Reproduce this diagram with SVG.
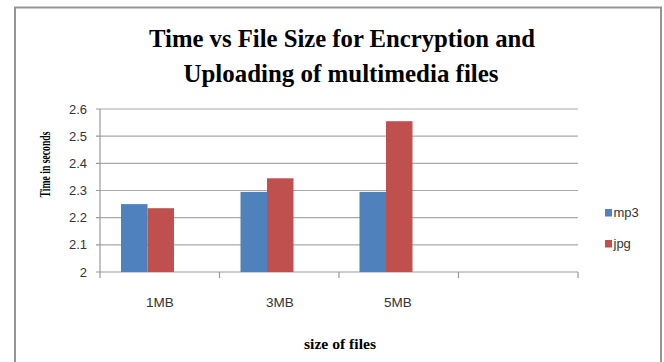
<svg xmlns="http://www.w3.org/2000/svg" width="664" height="362" viewBox="0 0 664 362">
<style>
.title{font-family:"Liberation Serif","Times New Roman",serif;font-weight:bold;font-size:25px;fill:#000;text-anchor:middle}
.axt{font-family:"Liberation Serif","Times New Roman",serif;font-weight:bold;font-size:14px;fill:#000;text-anchor:middle}
.tick{font-family:"Liberation Sans",Arial,sans-serif;font-size:13px;fill:#333}
.grid{stroke:#a8a8a8;stroke-width:1.2;fill:none}
.axis{stroke:#999;stroke-width:1.2;fill:none}
.mp3{fill:#4F81BD}
.jpg{fill:#C0504D}
</style>
<rect x="0" y="0" width="664" height="362" fill="#fff"/>
<g id="frame"><path d="M15,370 V7.5 H661 V370" fill="none" stroke="#959595" stroke-width="2"/></g>
<g id="title">
<text class="title" x="342" y="46.5" textLength="386" lengthAdjust="spacingAndGlyphs">Time vs File Size for Encryption and</text>
<text class="title" x="341" y="81.5" textLength="315" lengthAdjust="spacingAndGlyphs">Uploading of multimedia files</text>
</g>
<g id="connectors">
<g id="gridlines">
<line class="grid" x1="100" y1="109" x2="578" y2="109"/>
<line class="grid" x1="100" y1="136.2" x2="578" y2="136.2"/>
<line class="grid" x1="100" y1="163.3" x2="578" y2="163.3"/>
<line class="grid" x1="100" y1="190.5" x2="578" y2="190.5"/>
<line class="grid" x1="100" y1="217.7" x2="578" y2="217.7"/>
<line class="grid" x1="100" y1="244.8" x2="578" y2="244.8"/>
</g>
<g id="axes">
<line class="axis" x1="100" y1="109" x2="100" y2="272"/>
<line class="axis" x1="96" y1="272" x2="578" y2="272"/>
<path class="axis" d="M96,109H100M96,136.2H100M96,163.3H100M96,190.5H100M96,217.7H100M96,244.8H100"/>
<path class="axis" d="M100,272V278M219.5,272V278M339,272V278M458.5,272V278M578,272V278"/>
</g>
</g>
<g id="y-labels" class="tick" text-anchor="end" font-size="13.5">
<text x="87" y="113.5">2.6</text>
<text x="87" y="140.7">2.5</text>
<text x="87" y="167.8">2.4</text>
<text x="87" y="195">2.3</text>
<text x="87" y="222.2">2.2</text>
<text x="87" y="249.3">2.1</text>
<text x="87" y="276.5">2</text>
</g>
<g id="x-labels" class="tick" text-anchor="middle">
<text x="160" y="306.5" font-size="13.5">1MB</text>
<text x="280" y="306.5" font-size="13.5">3MB</text>
<text x="398" y="306.5" font-size="13.5">5MB</text>
</g>
<g id="bars">
<g id="bar-1MB-mp3"><rect class="mp3" x="121" y="204.1" width="26.5" height="67.9"/></g>
<g id="bar-1MB-jpg"><rect class="jpg" x="147.5" y="208.2" width="26.5" height="63.8"/></g>
<g id="bar-3MB-mp3"><rect class="mp3" x="240.5" y="191.9" width="26.5" height="80.1"/></g>
<g id="bar-3MB-jpg"><rect class="jpg" x="267" y="178.3" width="26.5" height="93.7"/></g>
<g id="bar-5MB-mp3"><rect class="mp3" x="359.5" y="191.9" width="26.5" height="80.1"/></g>
<g id="bar-5MB-jpg"><rect class="jpg" x="386" y="121.2" width="26.5" height="150.8"/></g>
</g>
<g id="y-axis-title"><text class="axt" transform="translate(49.5,164.5) rotate(-90)" font-size="16" textLength="66" lengthAdjust="spacingAndGlyphs">Time in seconds</text></g>
<g id="x-axis-title"><text class="axt" x="340" y="348.5" font-size="15" textLength="72" lengthAdjust="spacingAndGlyphs">size of files</text></g>
<g id="legend">
<g id="legend-mp3"><rect class="mp3" x="605" y="209" width="7" height="7.5"/><text class="tick" x="613.5" y="217" font-size="12.5">mp3</text></g>
<g id="legend-jpg"><rect class="jpg" x="605" y="240" width="7" height="7.5"/><text class="tick" x="613.5" y="248" font-size="12.5">jpg</text></g>
</g>
</svg>
